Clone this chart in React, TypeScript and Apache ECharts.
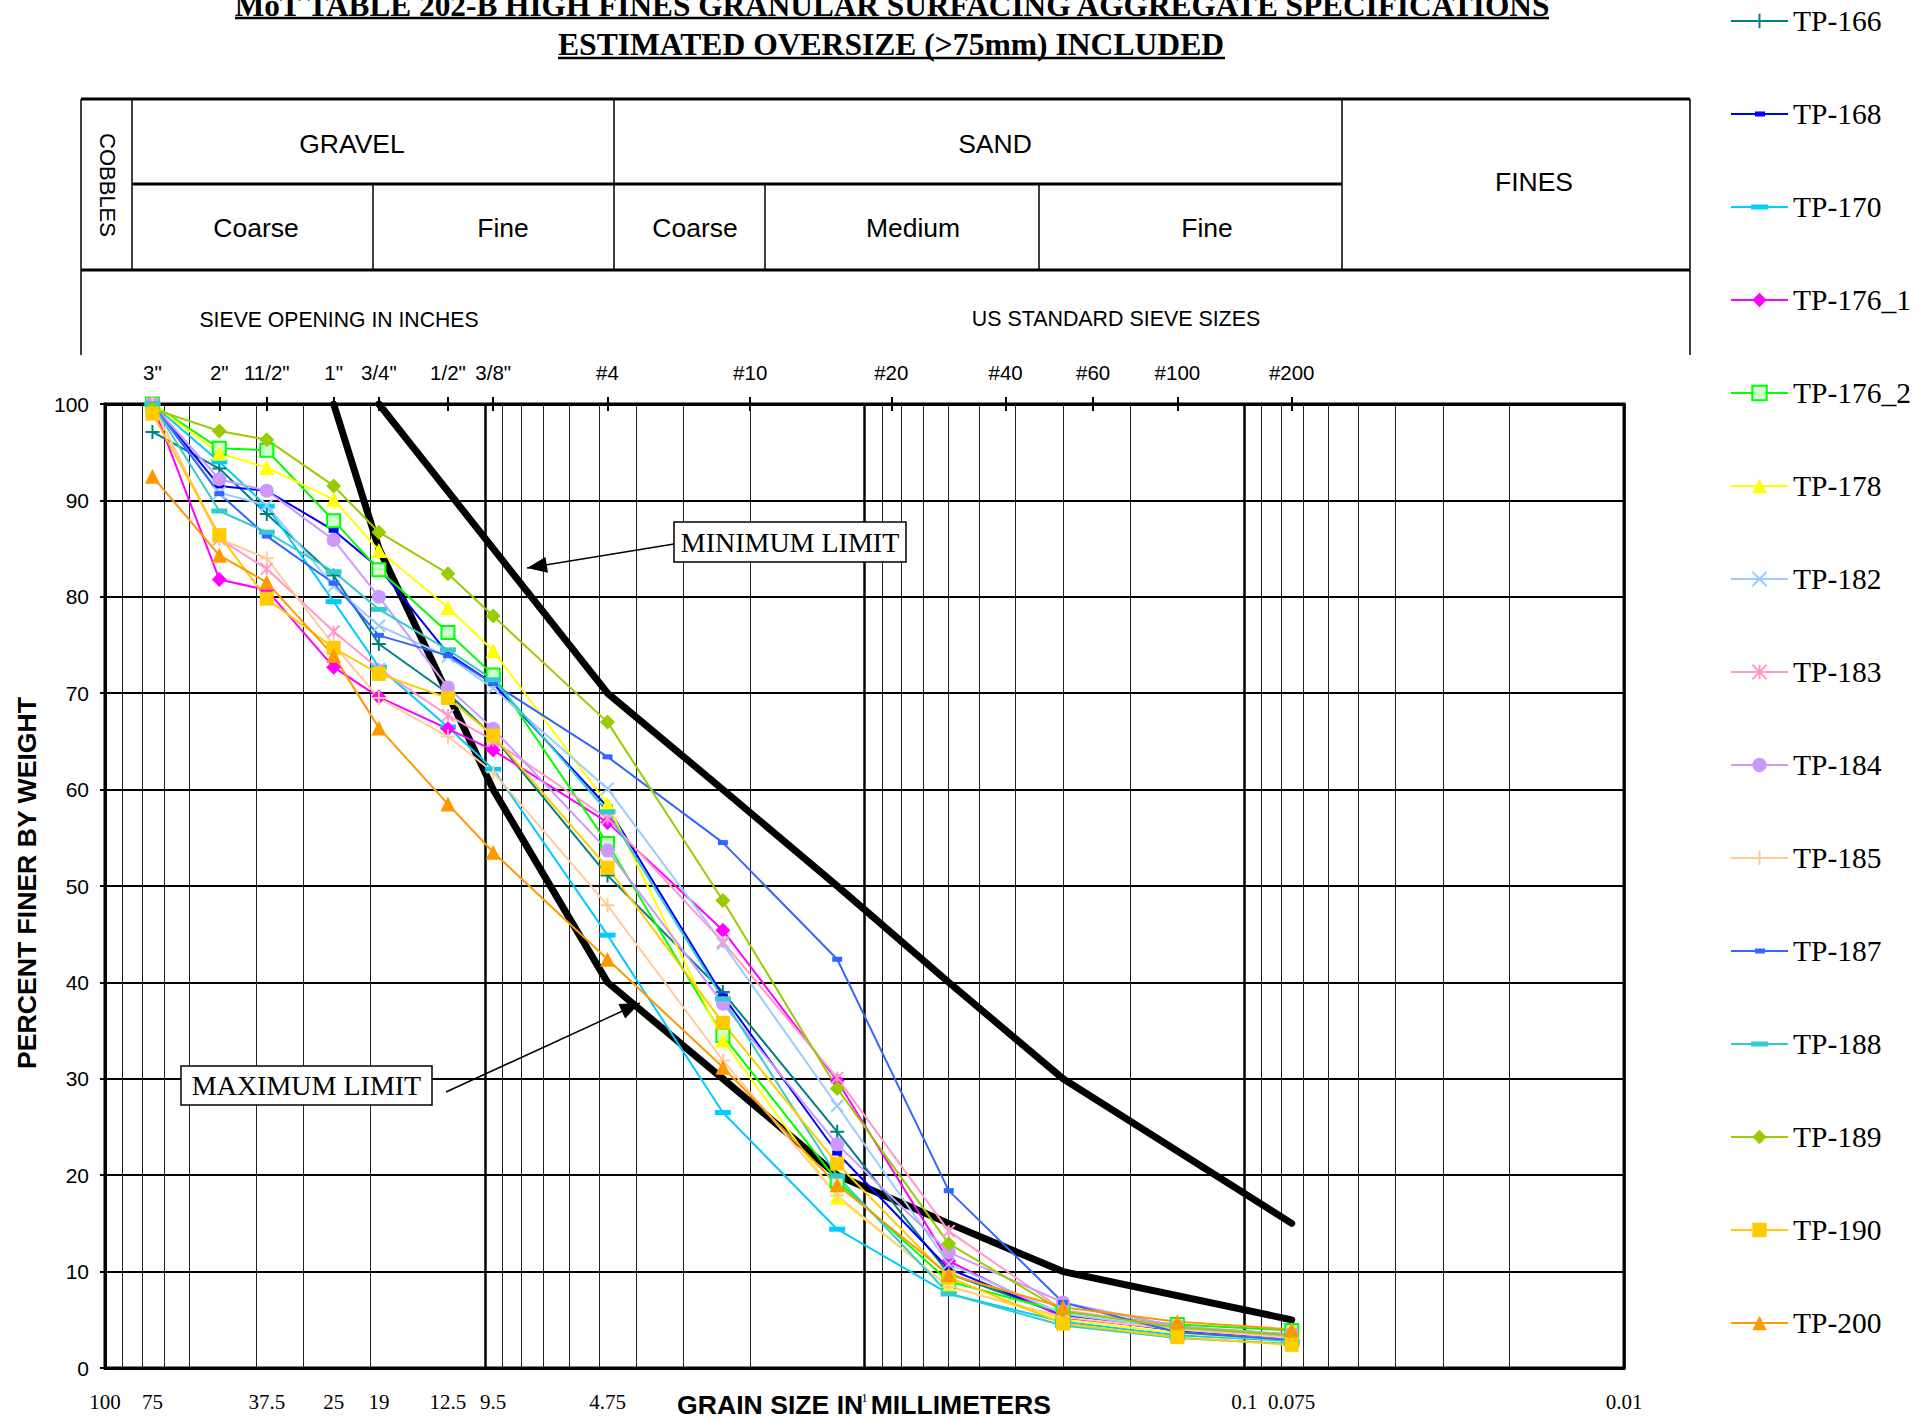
import React, { useEffect, useRef } from 'react';
import * as echarts from 'echarts';

// ---------------- DATA ----------------
const sieveSizesMm = [75, 50, 37.5, 25, 19, 12.5, 9.5, 4.75, 2.36, 1.18, 0.6, 0.3, 0.15, 0.075];

const seriesNames = [
  'TP-166', 'TP-168', 'TP-170', 'TP-176_1', 'TP-176_2', 'TP-178', 'TP-182', 'TP-183',
  'TP-184', 'TP-185', 'TP-187', 'TP-188', 'TP-189', 'TP-190', 'TP-200',
];

const tp166 = [97.1, 93.3, 88.6, 82.2, 75.1, 70.0, 65.5, 51.1, 39.0, 24.5, 9.8, 5.5, 4.0, 3.2];
const tp168 = [100, 91.5, 91.0, 86.9, 83.0, 74.1, 71.0, 58.2, 38.6, 22.3, 10.3, 5.4, 3.9, 3.1];
const tp170 = [100, 94.0, 89.4, 79.5, 72.7, 66.5, 62.1, 44.9, 26.5, 14.4, 7.7, 4.8, 3.4, 2.8];
const tp176_1 = [100, 81.8, 80.7, 72.7, 69.6, 66.3, 64.1, 56.6, 45.4, 29.8, 11.1, 5.2, 4.0, 3.3];
const tp176_2 = [100, 95.4, 95.2, 87.9, 82.8, 76.3, 71.9, 54.4, 34.5, 19.4, 9.0, 5.8, 4.5, 3.9];
const tp178 = [100, 94.9, 93.4, 90.1, 84.8, 78.9, 74.4, 58.5, 34.0, 17.7, 8.5, 5.0, 3.6, 2.9];
const tp182 = [100, 90.8, 89.5, 81.1, 77.0, 73.8, 70.5, 60.1, 44.0, 27.2, 10.8, 5.6, 4.1, 3.3];
const tp183 = [100, 86.0, 82.9, 76.4, 72.5, 67.7, 65.1, 57.0, 44.2, 30.1, 14.2, 6.0, 4.3, 3.5];
const tp184 = [100, 92.2, 91.0, 85.9, 80.0, 70.6, 66.3, 53.7, 37.8, 23.2, 12.0, 6.8, 4.3, 3.5];
const tp185 = [100, 86.0, 84.0, 75.0, 69.5, 65.5, 61.8, 48.0, 31.9, 17.9, 8.4, 5.3, 4.0, 3.1];
const tp187 = [100, 90.7, 86.3, 81.4, 76.0, 73.9, 71.0, 63.4, 54.5, 42.4, 18.4, 6.8, 3.7, 2.9];
const tp188 = [100, 88.9, 86.7, 82.6, 78.7, 74.5, 71.4, 57.7, 38.3, 19.9, 7.7, 4.4, 3.1, 2.5];
const tp189 = [99.5, 97.2, 96.3, 91.5, 86.7, 82.4, 78.0, 67.0, 48.5, 29.0, 12.9, 5.9, 4.2, 3.4];
const tp190 = [99.0, 86.4, 79.8, 74.7, 72.0, 69.5, 65.6, 51.9, 35.8, 21.2, 9.4, 4.6, 3.2, 2.4];
const tp200 = [92.5, 84.3, 81.5, 73.9, 66.4, 58.5, 53.5, 42.4, 31.2, 19.0, 9.7, 6.3, 4.8, 4.0];

const seriesValues = [
  tp166, tp168, tp170, tp176_1, tp176_2, tp178, tp182, tp183,
  tp184, tp185, tp187, tp188, tp189, tp190, tp200,
];

const minLimitSizes = [19, 9.5, 4.75, 2.36, 1.18, 0.6, 0.3, 0.075];
const minLimitValues = [100, 85, 70, 60, 50, 40, 30, 15];
const maxLimitSizes = [25, 19, 9.5, 4.75, 2.36, 1.18, 0.6, 0.3, 0.075];
const maxLimitValues = [100, 85, 60, 40, 30, 20, 15, 10, 5];

const topTickValues = [75, 50, 37.5, 25, 19, 12.5, 9.5, 4.75, 2.0, 0.85, 0.425, 0.25, 0.15, 0.075];
const topTickLabels = ['3"', '2"', '11/2"', '1"', '3/4"', '1/2"', '3/8"', '#4', '#10', '#20', '#40', '#60', '#100', '#200'];
const bottomTickValues = [100, 75, 37.5, 25, 19, 12.5, 9.5, 4.75, 1, 0.1, 0.075, 0.01];
const bottomTickLabels = ['100', '75', '37.5', '25', '19', '12.5', '9.5', '4.75', '1', '0.1', '0.075', '0.01'];

const minorGridValues = [
  90, 80, 70, 60, 40, 30, 20,
  9, 8, 7, 6, 5, 4, 3, 2,
  0.9, 0.8, 0.7, 0.6, 0.5, 0.4, 0.3, 0.2,
  0.09, 0.08, 0.07, 0.06, 0.05, 0.04, 0.03, 0.02,
];

// ---------------- STYLES ----------------
const SERIF = '"Liberation Serif", "Times New Roman", serif';
const SANS = '"Liberation Sans", Arial, sans-serif';

const plusPath = 'path://M5,0L5,10M0,5L10,5';
const xPath = 'path://M0,0L10,10M0,10L10,0';
const starPath = 'path://M0,0L10,10M0,10L10,0M5,0L5,10';
const smallDashLegend = 'path://M0,3h57v2h-57zM24,1.5h10v5h-10z';
const largeDashLegend = 'path://M0,3h57v2h-57zM20,1.5h17v5h-17z';

const seriesStyles: any[] = [
  { color: '#008080', symbol: plusPath, size: 14, stroke: true },
  { color: '#0000FF', symbol: 'rect', size: [10, 5], legendIcon: smallDashLegend },
  { color: '#00CCFF', symbol: 'rect', size: [16, 5], legendIcon: largeDashLegend },
  { color: '#FF00FF', symbol: 'diamond', size: 15 },
  { color: '#00FF00', symbol: 'rect', size: 13, fill: '#CCFFCC' },
  { color: '#FFFF00', symbol: 'triangle', size: 15 },
  { color: '#99CCFF', symbol: xPath, size: 12, stroke: true },
  { color: '#FF99CC', symbol: starPath, size: 12, stroke: true },
  { color: '#CC99FF', symbol: 'circle', size: 14 },
  { color: '#FFCC99', symbol: plusPath, size: 14, stroke: true },
  { color: '#3366FF', symbol: 'rect', size: [10, 5], legendIcon: smallDashLegend },
  { color: '#33CCCC', symbol: 'rect', size: [16, 5], legendIcon: largeDashLegend },
  { color: '#99CC00', symbol: 'diamond', size: 15 },
  { color: '#FFCC00', symbol: 'rect', size: 14 },
  { color: '#FF9900', symbol: 'triangle', size: 15 },
];

function lookupLabel(values: number[], labels: string[], v: number): string {
  for (let i = 0; i < values.length; i++) {
    if (Math.abs(Math.log10(v) - Math.log10(values[i])) < 1e-4) return labels[i];
  }
  return '';
}

function arrowHead(tail: number[], tip: number[], len: number, hw: number) {
  const dx = tip[0] - tail[0];
  const dy = tip[1] - tail[1];
  const d = Math.sqrt(dx * dx + dy * dy);
  const ux = dx / d;
  const uy = dy / d;
  const bx = tip[0] - ux * len;
  const by = tip[1] - uy * len;
  return [
    [tip[0], tip[1]],
    [bx - uy * hw, by + ux * hw],
    [bx + uy * hw, by - ux * hw],
  ];
}

function hLine(x1: number, x2: number, y: number, w: number) {
  return { type: 'line', silent: true, shape: { x1, y1: y, x2, y2: y }, style: { stroke: '#000', lineWidth: w } };
}
function vLine(x: number, y1: number, y2: number, w: number) {
  return { type: 'line', silent: true, shape: { x1: x, y1, x2: x, y2 }, style: { stroke: '#000', lineWidth: w } };
}
function txt(x: number, y: number, text: string, font: string, extra: any = {}) {
  return {
    type: 'text', silent: true, x, y, ...extra,
    style: { text, font, fill: '#000', align: 'center', verticalAlign: 'middle' },
  };
}

export default function App() {
  const ref = useRef<HTMLDivElement>(null);

  useEffect(() => {
    document.body.style.margin = '0';
    const chart = echarts.init(ref.current as HTMLDivElement, null, { renderer: 'svg' });

    const dataSeries = seriesNames.map((name, idx) => {
      const st = seriesStyles[idx];
      let itemStyle: any;
      if (st.stroke) itemStyle = { color: st.color, borderColor: st.color, borderWidth: 2 };
      else if (st.fill) itemStyle = { color: st.fill, borderColor: st.color, borderWidth: 2 };
      else itemStyle = { color: st.color, borderWidth: 0 };
      return {
        name,
        type: 'line',
        xAxisIndex: 0,
        yAxisIndex: 0,
        data: sieveSizesMm.map((s, i) => [s, seriesValues[idx][i]]),
        symbol: st.symbol,
        symbolSize: st.size,
        showSymbol: true,
        lineStyle: { color: st.color, width: 2 },
        itemStyle,
        z: 3,
      };
    });

    const legendData = seriesNames.map((name, idx) => {
      const st = seriesStyles[idx];
      return st.legendIcon ? { name, icon: st.legendIcon } : { name };
    });

    const minTail = [674, 544];
    const minTip = [527, 568];
    const maxTail = [446, 1092];
    const maxTip = [640, 1003];

    const graphic: any[] = [
      // title
      txt(892, 5, 'MoT TABLE 202-B HIGH FINES GRANULAR SURFACING AGGREGATE SPECIFICATIONS', `bold 31.3px ${SERIF}`),
      hLine(235, 1549, 18, 2.5),
      txt(891, 44, 'ESTIMATED OVERSIZE (>75mm) INCLUDED', `bold 31.6px ${SERIF}`),
      hLine(558, 1225, 58, 2.5),
      // header table
      hLine(81, 1690, 99, 3),
      hLine(132, 1342, 184, 3),
      hLine(81, 1690, 270, 3),
      vLine(81, 99, 355, 1.5),
      vLine(1690, 99, 355, 1.5),
      vLine(132, 99, 270, 1.5),
      vLine(614, 99, 270, 1.5),
      vLine(1342, 99, 270, 1.5),
      vLine(373, 184, 270, 1.5),
      vLine(765, 184, 270, 1.5),
      vLine(1039, 184, 270, 1.5),
      txt(107, 185, 'COBBLES', `22px ${SANS}`, { rotation: -Math.PI / 2 }),
      txt(352, 144, 'GRAVEL', `26.5px ${SANS}`),
      txt(995, 144, 'SAND', `26.5px ${SANS}`),
      txt(1534, 182, 'FINES', `26.5px ${SANS}`),
      txt(256, 228, 'Coarse', `26.5px ${SANS}`),
      txt(503, 228, 'Fine', `26.5px ${SANS}`),
      txt(695, 228, 'Coarse', `26.5px ${SANS}`),
      txt(913, 228, 'Medium', `26.5px ${SANS}`),
      txt(1207, 228, 'Fine', `26.5px ${SANS}`),
      txt(339, 319, 'SIEVE OPENING IN INCHES', `21.2px ${SANS}`),
      txt(1116, 319, 'US STANDARD SIEVE SIZES', `21.4px ${SANS}`),
      // axis titles
      txt(864, 1405, 'GRAIN SIZE IN MILLIMETERS', `bold 26.6px ${SANS}`),
      txt(27, 883, 'PERCENT FINER BY WEIGHT', `bold 26.6px ${SANS}`, { rotation: Math.PI / 2 }),
      // minimum limit annotation
      { type: 'line', silent: true, z: 50, shape: { x1: minTail[0], y1: minTail[1], x2: minTip[0], y2: minTip[1] }, style: { stroke: '#000', lineWidth: 1.5 } },
      { type: 'polygon', silent: true, z: 50, shape: { points: arrowHead(minTail, minTip, 20, 8) }, style: { fill: '#000' } },
      { type: 'rect', silent: true, z: 50, shape: { x: 674, y: 522, width: 232, height: 40 }, style: { fill: '#fff', stroke: '#000', lineWidth: 1.5 } },
      { ...txt(790, 542, 'MINIMUM LIMIT', `28px ${SERIF}`), z: 51 },
      // maximum limit annotation
      { type: 'line', silent: true, z: 50, shape: { x1: maxTail[0], y1: maxTail[1], x2: maxTip[0], y2: maxTip[1] }, style: { stroke: '#000', lineWidth: 1.5 } },
      { type: 'polygon', silent: true, z: 50, shape: { points: arrowHead(maxTail, maxTip, 20, 8) }, style: { fill: '#000' } },
      { type: 'rect', silent: true, z: 50, shape: { x: 181, y: 1066, width: 251, height: 39 }, style: { fill: '#fff', stroke: '#000', lineWidth: 1.5 } },
      { ...txt(306.5, 1085.5, 'MAXIMUM LIMIT', `28px ${SERIF}`), z: 51 },
    ];

    const option: any = {
      animation: false,
      backgroundColor: '#fff',
      grid: { left: 105, right: 308, top: 404, bottom: 52, show: true, borderColor: '#000', borderWidth: 3, backgroundColor: 'transparent' },
      legend: {
        orient: 'vertical',
        left: 1725,
        top: 1,
        itemWidth: 57,
        itemHeight: 18,
        itemGap: 63,
        data: legendData,
        textStyle: { fontFamily: SERIF, fontSize: 29.5, color: '#000', lineHeight: 30 },
        selectedMode: false,
      },
      xAxis: [
        {
          type: 'log', logBase: 10, min: 0.01, max: 100, inverse: true, position: 'bottom',
          axisLine: { show: true, lineStyle: { color: '#000', width: 3 } },
          axisTick: { show: false },
          splitLine: { show: true, lineStyle: { color: '#000', width: 2.5 } },
          axisLabel: {
            customValues: bottomTickValues,
            formatter: (v: number) => {
              const s = lookupLabel(bottomTickValues, bottomTickLabels, v);
              return s === '1' ? '{s|1}' : s;
            },
            rich: { s: { fontFamily: SERIF, fontSize: 13, color: '#000', padding: [0, 0, 8, 0] } },
            fontFamily: SERIF, fontSize: 21, color: '#000', margin: 23,
          },
        },
        {
          type: 'log', logBase: 10, min: 0.01, max: 100, inverse: true, position: 'top',
          axisLine: { show: true, lineStyle: { color: '#000', width: 3 } },
          axisTick: { show: true, customValues: topTickValues, length: 7, lineStyle: { color: '#000', width: 2 } },
          splitLine: { show: false },
          axisLabel: {
            customValues: topTickValues,
            formatter: (v: number) => lookupLabel(topTickValues, topTickLabels, v),
            fontFamily: SANS, fontSize: 20.5, color: '#000', margin: 21,
          },
        },
        {
          type: 'log', logBase: 10, min: 0.01, max: 100, inverse: true, position: 'top',
          axisLine: { show: false },
          axisTick: { show: true, inside: true, customValues: topTickValues, length: 7, lineStyle: { color: '#000', width: 2 } },
          splitLine: { show: false },
          axisLabel: { show: false },
        },
      ],
      yAxis: {
        type: 'value', min: 0, max: 100, interval: 10,
        axisLine: { show: true, lineStyle: { color: '#000', width: 3 } },
        axisTick: { show: true, length: 5, lineStyle: { color: '#000', width: 2 } },
        axisLabel: { fontFamily: SANS, fontSize: 21, color: '#000', margin: 16 },
        splitLine: { show: true, lineStyle: { color: '#000', width: 2 } },
      },
      series: [
        {
          name: 'MINIMUM LIMIT',
          type: 'line',
          xAxisIndex: 0,
          data: minLimitSizes.map((s, i) => [s, minLimitValues[i]]),
          symbol: 'none',
          lineStyle: { color: '#000', width: 7, cap: 'round', join: 'round' },
          z: 2,
          markLine: {
            silent: true,
            symbol: ['none', 'none'],
            label: { show: false },
            lineStyle: { color: '#222', width: 1, type: 'solid' },
            data: minorGridValues.map((v) => ({ xAxis: v })),
            z: 1,
          },
        },
        {
          name: 'MAXIMUM LIMIT',
          type: 'line',
          xAxisIndex: 0,
          data: maxLimitSizes.map((s, i) => [s, maxLimitValues[i]]),
          symbol: 'none',
          lineStyle: { color: '#000', width: 7, cap: 'round', join: 'round' },
          z: 2,
        },
        ...dataSeries,
      ],
      graphic,
    };

    chart.setOption(option);
    return () => chart.dispose();
  }, []);

  return <div ref={ref} style={{ position: 'fixed', left: 0, top: 0, width: 1932, height: 1420, background: '#fff' }} />;
}
